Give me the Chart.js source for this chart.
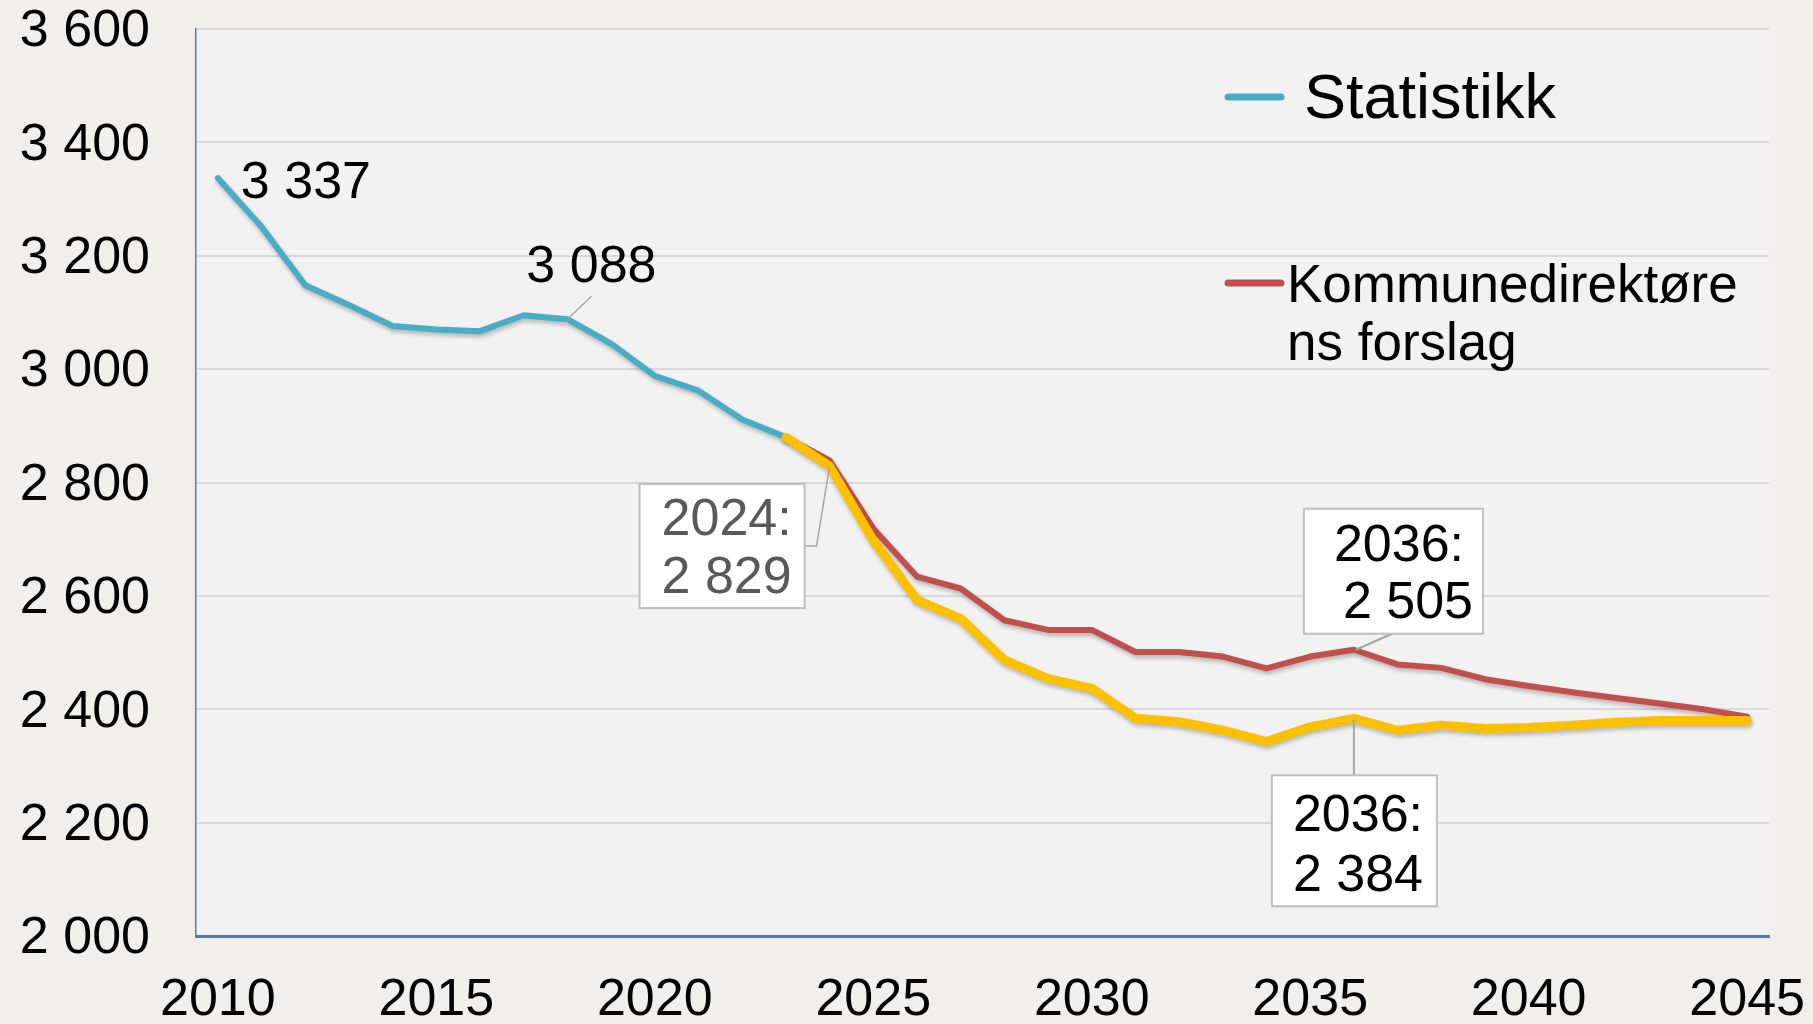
<!DOCTYPE html>
<html>
<head>
<meta charset="utf-8">
<script src="https://cdn.jsdelivr.net/npm/chart.js@4.4.1/dist/chart.umd.min.js"></script>
<style>
  html, body { margin: 0; padding: 0; background: #f1efeb; }
  #wrap { width: 1813px; height: 1024px; }
</style>
</head>
<body>
<div id="wrap"><canvas id="myChart" width="1813" height="1024"></canvas></div>
<script>
const years = ["2010", "2011", "2012", "2013", "2014", "2015", "2016", "2017", "2018",
  "2019", "2020", "2021", "2022", "2023", "2024", "2025", "2026", "2027", "2028",
  "2029", "2030", "2031", "2032", "2033", "2034", "2035", "2036", "2037", "2038",
  "2039", "2040", "2041", "2042", "2043", "2044", "2045"];

// 2010-2023
const statistikk = [3337, 3251, 3148, 3113, 3076, 3070, 3067, 3095, 3088, 3045, 2988, 2962, 2911, 2880];

// 2023-2045
const forslag = [2880, 2839, 2719, 2634, 2613, 2557, 2540, 2540, 2501, 2501, 2493, 2472,
  2493, 2505, 2479, 2473, 2453, 2441, 2430, 2420, 2410, 2400, 2387];
const alternativ = [2880, 2829, 2698, 2593, 2560, 2487, 2454, 2437, 2384, 2378, 2363, 2343,
  2369, 2384, 2363, 2372, 2366, 2368, 2372, 2377, 2380, 2380, 2380];

const legendNames = ["Statistikk", "Kommunedirektørens forslag"];

const FONT = "'Liberation Sans', Arial, sans-serif";
const outerBg = "#f1efeb";
const plotBg = "#f2f2f2";

function pad(values, first) {
  return years.map((y, i) => (i < first ? null : (values[i - first] ?? null)));
}
const startForecast = years.indexOf("2023");

function fmt(v) {
  return String(v).replace(/\B(?=(\d{3})+(?!\d))/g, " ");
}

const bgPlugin = {
  id: "bg",
  beforeDraw(chart) {
    const { ctx, chartArea: a } = chart;
    ctx.save();
    ctx.fillStyle = outerBg;
    ctx.fillRect(0, 0, chart.width, chart.height);
    ctx.fillStyle = plotBg;
    ctx.fillRect(a.left, a.top, a.right - a.left, a.bottom - a.top);
    ctx.restore();
  }
};

const shadowPlugin = {
  id: "shadow",
  beforeDatasetDraw(chart) {
    const c = chart.ctx;
    c.save();
    c.shadowColor = "rgba(0,0,0,0.25)";
    c.shadowBlur = 4;
    c.shadowOffsetX = 1;
    c.shadowOffsetY = 3;
  },
  afterDatasetDraw(chart) {
    chart.ctx.restore();
  }
};

function point(chart, dsIndex, year) {
  const i = years.indexOf(year);
  const v = chart.data.datasets[dsIndex].data[i];
  return { x: chart.scales.x.getPixelForValue(i), y: chart.scales.y.getPixelForValue(v), v: v };
}

function box(ctx, l, t, r, b) {
  ctx.fillStyle = "#ffffff";
  ctx.fillRect(l, t, r - l, b - t);
  ctx.strokeStyle = "#bfbfbf";
  ctx.lineWidth = 2;
  ctx.strokeRect(l, t, r - l, b - t);
}

const notesPlugin = {
  id: "notes",
  afterDatasetsDraw(chart) {
    const ctx = chart.ctx;
    ctx.save();
    ctx.font = "52px " + FONT;
    ctx.textBaseline = "middle";
    ctx.textAlign = "left";

    // statistikk 2010
    let p = point(chart, 2, "2010");
    ctx.fillStyle = "#000";
    ctx.fillText(fmt(p.v), p.x + 23, p.y + 6);

    // statistikk 2018
    p = point(chart, 2, "2018");
    ctx.strokeStyle = "#a6a6a6";
    ctx.lineWidth = 1.5;
    ctx.beginPath();
    ctx.moveTo(p.x + 1, p.y - 1);
    ctx.lineTo(p.x + 24, p.y - 23);
    ctx.stroke();
    ctx.textAlign = "center";
    ctx.fillText(fmt(p.v), p.x + 24, p.y - 52);
    ctx.textAlign = "left";

    // alternativ 2024
    p = point(chart, 0, "2024");
    ctx.strokeStyle = "#a6a6a6";
    ctx.lineWidth = 1.5;
    ctx.beginPath();
    ctx.moveTo(p.x - 25, p.y + 80);
    ctx.lineTo(p.x - 13, p.y + 80);
    ctx.lineTo(p.x, p.y);
    ctx.stroke();
    box(ctx, p.x - 190, p.y + 18, p.x - 25, p.y + 142);
    ctx.fillStyle = "#595959";
    ctx.fillText("2024:", p.x - 168, p.y + 55);
    ctx.fillText(fmt(p.v), p.x - 168, p.y + 113);

    // forslag 2036
    p = point(chart, 1, "2036");
    ctx.strokeStyle = "#a6a6a6";
    ctx.beginPath();
    ctx.moveTo(p.x + 2, p.y);
    ctx.lineTo(p.x + 38, p.y - 16);
    ctx.stroke();
    box(ctx, p.x - 50, p.y - 141, p.x + 129, p.y - 16);
    ctx.fillStyle = "#000";
    ctx.fillText("2036:", p.x - 20, p.y - 103);
    ctx.fillText(fmt(p.v), p.x - 11, p.y - 46);

    // alternativ 2036
    p = point(chart, 0, "2036");
    ctx.strokeStyle = "#a6a6a6";
    ctx.beginPath();
    ctx.moveTo(p.x, p.y);
    ctx.lineTo(p.x, p.y + 57);
    ctx.stroke();
    box(ctx, p.x - 82, p.y + 57, p.x + 83, p.y + 188);
    ctx.fillStyle = "#000";
    ctx.fillText("2036:", p.x - 61, p.y + 98);
    ctx.fillText(fmt(p.v), p.x - 61, p.y + 158);

    ctx.restore();
  }
};

const legendPlugin = {
  id: "customLegend",
  afterDraw(chart) {
    const ctx = chart.ctx;
    ctx.save();
    ctx.lineCap = "round";
    ctx.lineWidth = 7;
    ctx.strokeStyle = "#4bacc6";
    ctx.beginPath();
    ctx.moveTo(1228, 97);
    ctx.lineTo(1281, 97);
    ctx.stroke();
    ctx.strokeStyle = "#c0504d";
    ctx.beginPath();
    ctx.moveTo(1228, 283);
    ctx.lineTo(1281, 283);
    ctx.stroke();

    ctx.fillStyle = "#000";
    ctx.textAlign = "left";
    ctx.textBaseline = "alphabetic";
    ctx.font = "63px " + FONT;
    ctx.fillText(legendNames[0], 1304, 118);
    ctx.font = "53px " + FONT;
    const name = legendNames[1];
    ctx.fillText(name.slice(0, 16), 1287, 302);
    ctx.fillText(name.slice(16), 1287, 360);
    ctx.restore();
  }
};

const config = {
  type: "line",
  data: {
    labels: years,
    datasets: [
      {
        label: "Alternativ",
        data: pad(alternativ, startForecast),
        borderColor: "#ffc000",
        backgroundColor: "#ffc000",
        borderWidth: 9,
        order: 0
      },
      {
        label: legendNames[1],
        data: pad(forslag, startForecast),
        borderColor: "#c0504d",
        backgroundColor: "#c0504d",
        borderWidth: 6,
        order: 1
      },
      {
        label: legendNames[0],
        data: pad(statistikk, 0),
        borderColor: "#4bacc6",
        backgroundColor: "#4bacc6",
        borderWidth: 6,
        order: 2
      }
    ]
  },
  options: {
    responsive: false,
    animation: false,
    devicePixelRatio: 1,
    layout: { padding: { left: 0, right: 44, top: 29, bottom: 0 } },
    elements: {
      point: { radius: 0, hoverRadius: 0 },
      line: { tension: 0, borderJoinStyle: "round", borderCapStyle: "round" }
    },
    plugins: {
      legend: { display: false },
      tooltip: { enabled: false }
    },
    scales: {
      x: {
        offset: true,
        grid: { display: false, drawTicks: false },
        border: { display: true, color: "#4a7ebb", width: 3 },
        ticks: {
          autoSkip: false,
          maxRotation: 0,
          padding: 33,
          color: "#000",
          font: { size: 52, family: FONT },
          callback: function (val) {
            const y = this.getLabelForValue(val);
            return Number(y) % 5 === 0 ? y : "";
          }
        },
        afterFit(scale) {
          scale.height = 88;
          scale.paddingLeft = 0;
          scale.paddingRight = 0;
        }
      },
      y: {
        min: 2000,
        max: 3600,
        grid: { color: "#d9d9d9", lineWidth: 2, drawTicks: false },
        border: { display: true, color: "#4a7ebb", width: 1.5 },
        ticks: {
          stepSize: 200,
          padding: 46,
          labelOffset: 3,
          color: "#000",
          font: { size: 52, family: FONT },
          callback: (v) => fmt(v)
        },
        afterFit(scale) {
          scale.width = 196;
          scale.paddingTop = 0;
          scale.paddingBottom = 0;
        }
      }
    }
  },
  plugins: [bgPlugin, shadowPlugin, notesPlugin, legendPlugin]
};

const myChart = new Chart(document.getElementById("myChart"), config);
</script>
</body>
</html>
